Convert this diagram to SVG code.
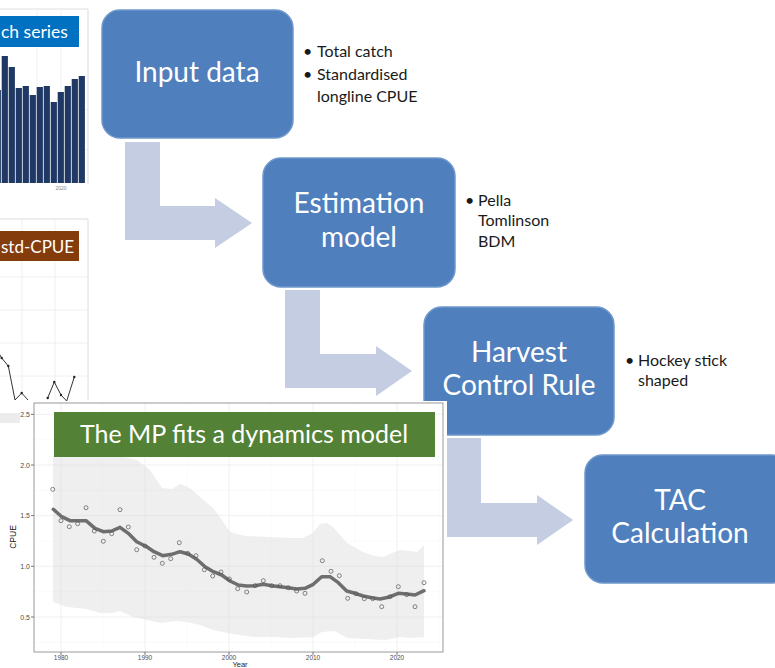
<svg xmlns="http://www.w3.org/2000/svg" width="775" height="668" viewBox="0 0 775 668">
<style>
.box{fill:#4f7fbd;stroke:#6f98cc;stroke-width:1.5}
.big{font-family:Lato,"Open Sans",sans-serif;font-size:28px;fill:#fff;text-anchor:middle}
.bul{font-family:Lato,"Open Sans",sans-serif;font-size:16px;fill:#1a1a1a}
.arr{fill:#c4cde1}
.grid{stroke:#ececec;stroke-width:0.8}
.gridm{stroke:#f4f4f4;stroke-width:0.5}
.tick{font-family:"Liberation Sans",Arial,sans-serif;font-size:7px;fill:#4d4d4d}
.pt{fill:none;stroke:#555;stroke-width:0.7}
.bar{fill:#203864}
</style>
<rect width="775" height="668" fill="#fff"/>

<!-- catch series chart (partial) -->
<g id="catch-chart">
  <line x1="0" y1="9" x2="88" y2="9" stroke="#e0e0e0"/>
  <line x1="37" y1="9" x2="37" y2="183" class="grid"/>
  <line x1="61" y1="9" x2="61" y2="183" class="grid"/>
  <line x1="0" y1="110" x2="88" y2="110" class="grid"/>
  <line x1="0" y1="150" x2="88" y2="150" class="grid"/>
  <rect class="bar" x="-5.3" y="90" width="6.2" height="93"/>
  <rect class="bar" x="1.7" y="56" width="6.2" height="127"/>
  <rect class="bar" x="8.7" y="67" width="6.2" height="116"/>
  <rect class="bar" x="15.7" y="88" width="6.2" height="95"/>
  <rect class="bar" x="22.7" y="86" width="6.2" height="97"/>
  <rect class="bar" x="29.7" y="95" width="6.2" height="88"/>
  <rect class="bar" x="36.7" y="87" width="6.2" height="96"/>
  <rect class="bar" x="43.7" y="86" width="6.2" height="97"/>
  <rect class="bar" x="50.7" y="102" width="6.2" height="81"/>
  <rect class="bar" x="57.7" y="92" width="6.2" height="91"/>
  <rect class="bar" x="64.7" y="86" width="6.2" height="97"/>
  <rect class="bar" x="71.7" y="79" width="6.2" height="104"/>
  <rect class="bar" x="78.7" y="76" width="6.2" height="107"/>
  <line x1="88" y1="9" x2="88" y2="184" stroke="#d9d9d9"/>
  <text x="61" y="190" font-family="Liberation Sans,Arial,sans-serif" font-size="5" fill="#888" text-anchor="middle">2020</text>
  <rect x="0" y="16" width="79" height="31" fill="#0070c0"/>
  <text x="1" y="38" font-family="Lato,'Open Sans',sans-serif" font-size="17.5" fill="#fff">ch series</text>
</g>

<!-- std-CPUE chart (partial) -->
<g id="std-cpue-chart">
  <line x1="0" y1="219" x2="88" y2="219" stroke="#dcdcdc"/>
  <line x1="88" y1="219" x2="88" y2="400" stroke="#dcdcdc"/>
  <line x1="22" y1="219" x2="22" y2="400" class="grid"/>
  <line x1="55" y1="219" x2="55" y2="400" class="grid"/>
  <line x1="0" y1="277" x2="88" y2="277" class="grid"/>
  <line x1="0" y1="310" x2="88" y2="310" class="grid"/>
  <line x1="0" y1="343" x2="88" y2="343" class="grid"/>
  <line x1="0" y1="376" x2="88" y2="376" class="grid"/>
  <polyline points="-3,350 1.7,358 8.3,366 15,400 21.7,393 28,400" fill="none" stroke="#333" stroke-width="1"/>
  <polyline points="47.7,398 54.3,382 61,395 66.7,401 74.3,377" fill="none" stroke="#333" stroke-width="1"/>
  <g fill="#222">
    <circle cx="1.7" cy="358" r="1.2"/><circle cx="8.3" cy="366" r="1.2"/>
    <circle cx="21.7" cy="393" r="1.2"/><circle cx="47.7" cy="398" r="1.2"/>
    <circle cx="54.3" cy="382" r="1.2"/><circle cx="61" cy="395" r="1.2"/>
    <circle cx="74.3" cy="377" r="1.2"/>
  </g>
  <rect x="0" y="231" width="79" height="30" fill="#843c0c"/>
  <text x="1" y="253" font-family="Lato,'Open Sans',sans-serif" font-size="17" fill="#fff">std-CPUE</text>
  <rect x="0" y="413" width="20" height="10" fill="#ececec"/>
</g>

<!-- connectors -->
<g id="connectors">
  <path class="arr" d="M125,142 H160 V206 H215 V198 L252,223 L215,248 V240 H125 Z"/>
  <path class="arr" d="M285,290 H320 V354 H376 V346 L412,371 L376,396 V388 H285 Z"/>
  <path class="arr" d="M447,438 H481 V503 H537 V495 L573,520 L537,545 V537 H447 Z"/>
</g>

<!-- nodes -->
<g id="input-data">
  <rect class="box" x="102" y="10" width="191" height="128" rx="18"/>
  <text class="big" x="197" y="82">Input data</text>
  <text class="bul" x="303" y="57">• <tspan x="317">Total catch</tspan></text>
  <text class="bul" x="303" y="80">• <tspan x="317">Standardised</tspan></text>
  <text class="bul" x="317" y="102">longline CPUE</text>
</g>
<g id="estimation-model">
  <rect class="box" x="263" y="158" width="192" height="129" rx="18"/>
  <text class="big" x="359" y="213">Estimation</text>
  <text class="big" x="359" y="247">model</text>
  <text class="bul" x="465" y="206" font-size="15">• <tspan x="478">Pella</tspan></text>
  <text class="bul" x="478" y="226" font-size="15">Tomlinson</text>
  <text class="bul" x="478" y="247" font-size="15">BDM</text>
</g>
<g id="harvest-control-rule">
  <rect class="box" x="424" y="307" width="190" height="128" rx="18"/>
  <text class="big" x="519" y="362">Harvest</text>
  <text class="big" x="519" y="395">Control Rule</text>
  <text class="bul" x="625" y="366">• <tspan x="638">Hockey stick</tspan></text>
  <text class="bul" x="638" y="386">shaped</text>
</g>
<g id="tac-calculation">
  <rect class="box" x="585" y="455" width="205" height="128" rx="18"/>
  <text class="big" x="680" y="510">TAC</text>
  <text class="big" x="680" y="543">Calculation</text>
</g>

<!-- MP model fit chart -->
<g id="mp-chart">
  <rect x="20" y="401" width="427" height="267" fill="#fff"/>
  <g>
    <line class="gridm" x1="34" x2="443" y1="642.3" y2="642.3"/>
    <line class="gridm" x1="34" x2="443" y1="591.7" y2="591.7"/>
    <line class="gridm" x1="34" x2="443" y1="541" y2="541"/>
    <line class="gridm" x1="34" x2="443" y1="490.3" y2="490.3"/>
    <line class="gridm" x1="34" x2="443" y1="439.7" y2="439.7"/>
    <line class="gridm" y1="403" y2="652" x1="103" x2="103"/>
    <line class="gridm" y1="403" y2="652" x1="187" x2="187"/>
    <line class="gridm" y1="403" y2="652" x1="271" x2="271"/>
    <line class="gridm" y1="403" y2="652" x1="355" x2="355"/>
    <line class="gridm" y1="403" y2="652" x1="439" x2="439"/>
    <line class="grid" x1="34" x2="443" y1="617" y2="617"/>
    <line class="grid" x1="34" x2="443" y1="566.3" y2="566.3"/>
    <line class="grid" x1="34" x2="443" y1="515.6" y2="515.6"/>
    <line class="grid" x1="34" x2="443" y1="465" y2="465"/>
    <line class="grid" x1="34" x2="443" y1="414.4" y2="414.4"/>
    <line class="grid" y1="403" y2="652" x1="61" x2="61"/>
    <line class="grid" y1="403" y2="652" x1="145" x2="145"/>
    <line class="grid" y1="403" y2="652" x1="229" x2="229"/>
    <line class="grid" y1="403" y2="652" x1="313" x2="313"/>
    <line class="grid" y1="403" y2="652" x1="397" x2="397"/>
  </g>
  <path fill="#d6d6d6" fill-opacity="0.4" d="M53,455 L115,455 L137,460 L150,470 L162,488 L172,489 L180,484 L190,488 L200,497 L213,508 L222,520 L230,532 L245,536 L270,537 L290,538 L303,538 L313,533 L320,524 L327,523 L333,527 L340,535 L347,543 L363,552 L375,556 L383,557 L392,553 L400,550 L410,551 L417,552 L424,545 L424,637 L410,638 L400,637 L385,640 L367,639 L347,638 L335,631 L322,632 L313,637 L293,638 L273,637 L253,637 L233,634 L213,630 L200,625 L187,622 L177,621 L160,623 L147,620 L133,617 L120,611 L113,613 L100,613 L87,609 L67,607 L53,602 Z"/>
  <polyline fill="none" stroke="#6e6e6e" stroke-width="3.5" stroke-linejoin="round" stroke-linecap="round" points="53.3,509.3 61.7,516.7 70,520.7 86,520.7 95,528.3 103.3,531.7 111.7,531 120,527.3 128.3,533.3 136.7,541.7 146.7,546.7 154,551.7 162.7,555.7 171.7,554.3 180,551.7 188.3,554 196.7,559.3 205,566.7 213.3,571.7 221.7,575 230,581 238.3,585 246.7,586 255,585.7 263.3,584.3 271.7,585.7 280,586.7 288.3,587.7 296.7,589 305,588.3 313.3,584.3 321.7,576.7 330,576.7 338.3,582.7 346.7,591 355,593.3 363.3,596 371.7,597.7 380,599 388.3,597.3 398.3,593.3 406.7,594 415,595 424,590.7"/>
  <g class="pt">
    <circle r="2" cx="52.7" cy="489.3"/><circle r="2" cx="61" cy="520.7"/><circle r="2" cx="69.3" cy="526.7"/>
    <circle r="2" cx="77.7" cy="523.7"/><circle r="2" cx="86" cy="507.7"/><circle r="2" cx="94.3" cy="531"/>
    <circle r="2" cx="103.3" cy="541.3"/><circle r="2" cx="111.7" cy="533.7"/><circle r="2" cx="120" cy="509.7"/>
    <circle r="2" cx="128.3" cy="527"/><circle r="2" cx="136.7" cy="549.7"/><circle r="2" cx="145" cy="546"/>
    <circle r="2" cx="154" cy="557.3"/><circle r="2" cx="162.3" cy="563.3"/><circle r="2" cx="170.7" cy="558.7"/>
    <circle r="2" cx="179.3" cy="542.7"/><circle r="2" cx="187.7" cy="553.3"/><circle r="2" cx="196" cy="555.7"/>
    <circle r="2" cx="204.3" cy="569.7"/><circle r="2" cx="212.7" cy="576"/><circle r="2" cx="221" cy="572"/>
    <circle r="2" cx="229.3" cy="579"/><circle r="2" cx="237.7" cy="588.7"/><circle r="2" cx="246.7" cy="592"/>
    <circle r="2" cx="255" cy="585.7"/><circle r="2" cx="263.3" cy="580.7"/><circle r="2" cx="271.7" cy="585.7"/>
    <circle r="2" cx="280" cy="585.7"/><circle r="2" cx="288.3" cy="587.7"/><circle r="2" cx="296.7" cy="591"/>
    <circle r="2" cx="305" cy="593.3"/><circle r="2" cx="322.3" cy="560.7"/>
    <circle r="2" cx="331" cy="571.3"/><circle r="2" cx="339.3" cy="575.7"/><circle r="2" cx="347.7" cy="598.3"/>
    <circle r="2" cx="356" cy="593.7"/><circle r="2" cx="364.3" cy="598.7"/><circle r="2" cx="372.7" cy="598.7"/>
    <circle r="2" cx="381.7" cy="606.7"/><circle r="2" cx="390" cy="596.7"/><circle r="2" cx="398.3" cy="586.7"/>
    <circle r="2" cx="406.7" cy="594.7"/><circle r="2" cx="415" cy="606.7"/><circle r="2" cx="424" cy="582.7"/>
  </g>
  <rect x="34" y="403" width="409" height="249" fill="none" stroke="#9a9a9a" stroke-width="1"/>
  <g stroke="#555" stroke-width="0.8">
    <line x1="31" x2="34" y1="617" y2="617"/><line x1="31" x2="34" y1="566.3" y2="566.3"/>
    <line x1="31" x2="34" y1="515.6" y2="515.6"/><line x1="31" x2="34" y1="465" y2="465"/>
    <line x1="31" x2="34" y1="414.4" y2="414.4"/>
    <line y1="652" y2="655" x1="61" x2="61"/><line y1="652" y2="655" x1="145" x2="145"/>
    <line y1="652" y2="655" x1="229" x2="229"/><line y1="652" y2="655" x1="313" x2="313"/>
    <line y1="652" y2="655" x1="397" x2="397"/>
  </g>
  <g class="tick" text-anchor="end">
    <text x="30" y="619.5">0.5</text><text x="30" y="568.8">1.0</text>
    <text x="30" y="518">1.5</text><text x="30" y="467.5">2.0</text><text x="30" y="417">2.5</text>
  </g>
  <g class="tick" text-anchor="middle" font-size="6.5">
    <text x="61" y="659.5" font-size="6.5">1980</text><text x="145" y="659.5" font-size="6.5">1990</text><text x="229" y="659.5" font-size="6.5">2000</text>
    <text x="313" y="659.5" font-size="6.5">2010</text><text x="397" y="659.5" font-size="6.5">2020</text>
  </g>
  <text x="240" y="667.3" font-family="Liberation Sans,Arial,sans-serif" font-size="7.5" fill="#222" text-anchor="middle">Year</text>
  <text transform="translate(16,537) rotate(-90)" font-family="Liberation Sans,Arial,sans-serif" font-size="8.5" fill="#222" text-anchor="middle">CPUE</text>
  <rect x="54" y="412" width="381" height="45" fill="#538135"/>
  <text x="244" y="443" font-family="Lato,'Open Sans',sans-serif" font-size="25" fill="#fff" text-anchor="middle">The MP fits a dynamics model</text>
</g>
</svg>
